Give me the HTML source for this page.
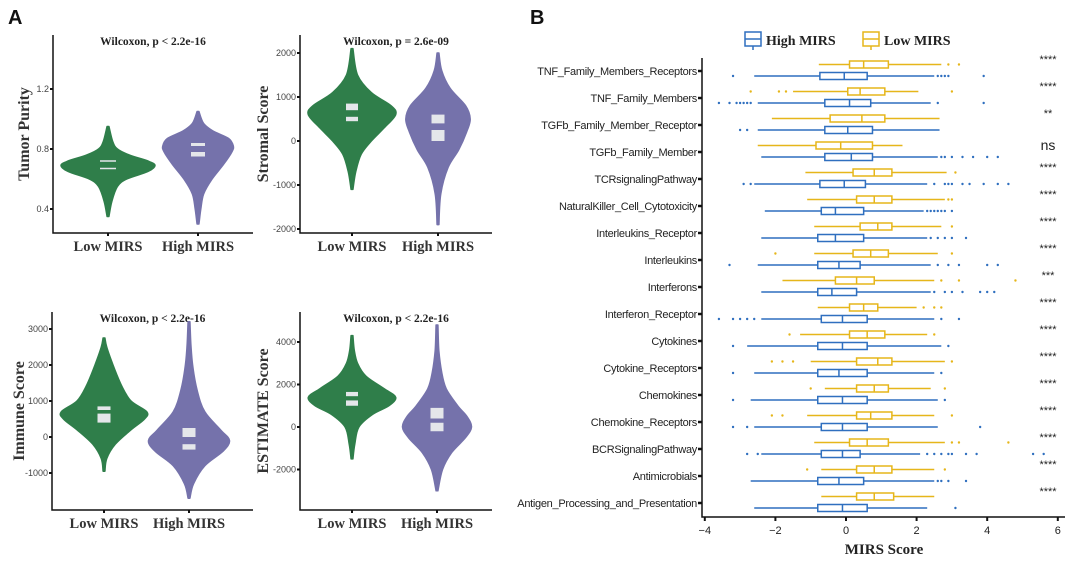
<!DOCTYPE html>
<html><head><meta charset="utf-8"><style>
body{margin:0;background:#fff;}
svg{display:block;}
.ser{font-family:"Liberation Serif",serif;font-weight:bold;}
.sans{font-family:"Liberation Sans",sans-serif;}
</style></head><body>
<svg id="fig" width="1080" height="563" viewBox="0 0 1080 563" xmlns="http://www.w3.org/2000/svg">
<text x="8" y="24" class="sans" font-weight="bold" font-size="20" fill="#111">A</text>
<text x="530" y="24" class="sans" font-weight="bold" font-size="20" fill="#111">B</text>
<g id="pa"></g>
<g id="pb"></g>
</svg>
<script>
// ---------- Panel A data ----------
const groupNames = ["Low MIRS", "High MIRS"];
const purityLowVals = [0.35,0.45,0.55,0.6,0.65,0.69,0.72,0.76,0.8,0.85,0.95];
const purityLowDens = [0.02,0.08,0.2,0.4,0.85,1,0.85,0.45,0.2,0.1,0.02];
const purityHighVals = [0.3,0.4,0.5,0.6,0.7,0.78,0.82,0.87,0.92,0.97,1.05];
const purityHighDens = [0.02,0.06,0.12,0.3,0.55,0.72,0.75,0.65,0.32,0.12,0.02];
const stromalLowVals = [-1100,-700,-300,0,300,600,800,1100,1500,2100];
const stromalLowDens = [0.02,0.08,0.2,0.42,0.7,0.95,0.85,0.42,0.12,0.02];
const stromalHighVals = [-1900,-1200,-600,-200,200,500,800,1200,1600,2000];
const stromalHighDens = [0.02,0.06,0.22,0.45,0.62,0.7,0.6,0.26,0.08,0.02];
const immuneLowVals = [-950,-600,-200,200,500,700,1000,1400,2000,2500,2750];
const immuneLowDens = [0.02,0.06,0.25,0.6,0.9,0.95,0.6,0.4,0.2,0.06,0.02];
const immuneHighVals = [-1700,-1300,-800,-400,-100,200,700,1300,2000,2600,3200];
const immuneHighDens = [0.02,0.1,0.35,0.75,0.9,0.7,0.35,0.18,0.08,0.04,0.02];
const estLowVals = [-1500,-800,0,600,1000,1400,1800,2400,3000,3600,4300];
const estLowDens = [0.02,0.06,0.15,0.45,0.8,0.95,0.7,0.3,0.12,0.05,0.02];
const estHighVals = [-3000,-2000,-1200,-500,0,500,1000,1800,2600,3600,4800];
const estHighDens = [0.02,0.12,0.32,0.62,0.75,0.65,0.45,0.2,0.1,0.04,0.02];
const purityBoxes = [[0.725,0.72],[0.675,0.67]];
const purityHighBoxes = [[0.84,0.82],[0.78,0.75]];
const stromalLowBoxes = [[850,700],[550,450]];
const stromalHighBoxes = [[600,400],[250,0]];
const immuneLowBoxes = [[850,750],[650,400]];
const immuneHighBoxes = [[250,0],[-200,-350]];
const estLowBoxes = [[1650,1450],[1250,1000]];
const estHighBoxes = [[900,400],[200,-200]];
const purityTicks = [0.4,0.8,1.2];
const stromalTicks = [-2000,-1000,0,1000,2000];
const immuneTicks = [-1000,0,1000,2000,3000];
const estTicks = [-2000,0,2000,4000];

const NS="http://www.w3.org/2000/svg";
function mk(parent,tag,attrs,txt){const e=document.createElementNS(NS,tag);for(const k in attrs)e.setAttribute(k,attrs[k]);if(txt!==undefined)e.textContent=txt;parent.appendChild(e);return e;}
const pa=document.getElementById('pa');

function smoothPts(pts){
  // Catmull-Rom to cubic bezier
  let d='';
  for(let i=0;i<pts.length-1;i++){
    const p0=pts[Math.max(0,i-1)],p1=pts[i],p2=pts[i+1],p3=pts[Math.min(pts.length-1,i+2)];
    const c1=[p1[0]+(p2[0]-p0[0])/6,p1[1]+(p2[1]-p0[1])/6];
    const c2=[p2[0]-(p3[0]-p1[0])/6,p2[1]-(p3[1]-p1[1])/6];
    d+=`C${c1[0].toFixed(1)},${c1[1].toFixed(1)} ${c2[0].toFixed(1)},${c2[1].toFixed(1)} ${p2[0].toFixed(1)},${p2[1].toFixed(1)}`;
  }
  return d;
}

function violinPanel(cfg){
  const g=mk(pa,'g',{});
  
  
  const ys=v=>cfg.y0+(v-cfg.v0)*(cfg.y1-cfg.y0)/(cfg.v1-cfg.v0);
  const title=mk(g,'text',{x:(cfg.left+cfg.right)/2,y:cfg.top+10,'text-anchor':'middle','font-size':11.5,class:'ser',fill:'#222'},cfg.title);
  
  
  cfg.violins.forEach((vi,i)=>{
    const cx=cfg.centers[i];
    const right=vi.vals.map((v,j)=>[cx+vi.dens[j]*cfg.maxw,ys(v)]);
    const left=vi.vals.map((v,j)=>[cx-vi.dens[j]*cfg.maxw,ys(v)]).reverse();
    let d=`M${cx},${ys(vi.vals[0]).toFixed(1)}L${right[0][0].toFixed(1)},${right[0][1].toFixed(1)}`+smoothPts(right);
    d+=`L${cx},${right[right.length-1][1].toFixed(1)}L${left[0][0].toFixed(1)},${left[0][1].toFixed(1)}`+smoothPts(left)+'Z';
    const p=mk(g,'path',{d:d,fill:vi.color,stroke:vi.color,'stroke-width':1.5,'stroke-linejoin':'round'});
    
    
    vi.boxes.forEach(b=>{
      const y1=ys(b[0]),y2=ys(b[1]);
      const r=mk(g,'rect',{x:cx-vi.bw/2,y:y1,width:vi.bw,height:Math.max(1.5,y2-y1),fill:'#e4e6ea'});
      
      
    });
    mk(g,'line',{x1:cx,x2:cx,y1:cfg.bottom,y2:cfg.bottom+3,stroke:'#111','stroke-width':2});
    const xl=mk(g,'text',{x:cx,y:cfg.bottom+18,'text-anchor':'middle','font-size':14.5,class:'ser',fill:'#333'},groupNames[i]);
    
    
  });
  mk(g,'path',{d:`M${cfg.left},${cfg.top}V${cfg.bottom}H${cfg.right}`,fill:'none',stroke:'#111','stroke-width':1.5});
  cfg.ticks.forEach(t=>{
    const y=ys(t);
    mk(g,'line',{x1:cfg.left-3,x2:cfg.left,y1:y,y2:y,stroke:'#111','stroke-width':2});
    const tl=mk(g,'text',{x:cfg.left-4,y:y+3,'text-anchor':'end','font-size':9,class:'sans',fill:'#444'},String(t));
    
    
  });
  const yt=mk(g,'text',{x:0,y:0,transform:`translate(${cfg.ytx},${(cfg.top+cfg.bottom)/2}) rotate(-90)`,'text-anchor':'middle','font-size':16,class:'ser',fill:'#333'},cfg.ytitle);
  
  
}
const GREEN='#2f7e4a',PURP='#7572ab';
violinPanel({name:'tumor-purity-violin',title:'Wilcoxon, p < 2.2e-16',ytitle:'Tumor Purity',left:53,right:253,top:35,bottom:233,v0:0.4,y0:209,v1:1.2,y1:89,centers:[108,198],maxw:47,ytx:29,ticks:purityTicks,
  violins:[{vals:purityLowVals,dens:purityLowDens,color:GREEN,boxes:purityBoxes,bw:16},{vals:purityHighVals,dens:purityHighDens,color:PURP,boxes:purityHighBoxes,bw:14}]});
violinPanel({name:'stromal-score-violin',title:'Wilcoxon, p = 2.6e-09',ytitle:'Stromal Score',left:300,right:492,top:35,bottom:233,v0:0,y0:141,v1:2000,y1:53,centers:[352,438],maxw:46,ytx:268,ticks:stromalTicks,
  violins:[{vals:stromalLowVals,dens:stromalLowDens,color:GREEN,boxes:stromalLowBoxes,bw:12},{vals:stromalHighVals,dens:stromalHighDens,color:PURP,boxes:stromalHighBoxes,bw:13}]});
violinPanel({name:'immune-score-violin',title:'Wilcoxon, p < 2.2e-16',ytitle:'Immune Score',left:52,right:253,top:312,bottom:510,v0:0,y0:437,v1:3000,y1:329,centers:[104,189],maxw:45,ytx:24,ticks:immuneTicks,
  violins:[{vals:immuneLowVals,dens:immuneLowDens,color:GREEN,boxes:immuneLowBoxes,bw:13},{vals:immuneHighVals,dens:immuneHighDens,color:PURP,boxes:immuneHighBoxes,bw:13}]});
violinPanel({name:'estimate-score-violin',title:'Wilcoxon, p < 2.2e-16',ytitle:'ESTIMATE Score',left:300,right:492,top:312,bottom:510,v0:0,y0:427,v1:4000,y1:342,centers:[352,437],maxw:46,ytx:268,ticks:estTicks,
  violins:[{vals:estLowVals,dens:estLowDens,color:GREEN,boxes:estLowBoxes,bw:12},{vals:estHighVals,dens:estHighDens,color:PURP,boxes:estHighBoxes,bw:13}]});

// ---------- Panel B data ----------
const pathways = ["TNF_Family_Members_Receptors","TNF_Family_Members","TGFb_Family_Member_Receptor","TGFb_Family_Member","TCRsignalingPathway","NaturalKiller_Cell_Cytotoxicity","Interleukins_Receptor","Interleukins","Interferons","Interferon_Receptor","Cytokines","Cytokine_Receptors","Chemokines","Chemokine_Receptors","BCRSignalingPathway","Antimicrobials","Antigen_Processing_and_Presentation"];
const lowStats = [[-0.77,0.1,0.5,1.2,2.7],[-1.5,0.05,0.4,1.1,2.05],[-2.1,-0.45,0.45,1.1,2.65],[-2.5,-0.85,-0.15,0.75,1.6],[-1.15,0.2,0.8,1.3,2.85],[-1.1,0.3,0.8,1.3,2.8],[-0.9,0.4,0.9,1.3,2.7],[-0.9,0.2,0.7,1.2,2.6],[-1.8,-0.3,0.3,0.8,2.5],[-0.8,0.1,0.5,0.9,2.0],[-1.3,0.1,0.6,1.1,2.3],[-1.0,0.3,0.9,1.3,2.8],[-0.6,0.3,0.8,1.2,2.4],[-1.1,0.3,0.7,1.3,2.5],[-0.9,0.1,0.6,1.2,2.8],[-0.7,0.3,0.8,1.3,2.5],[-0.7,0.3,0.8,1.35,2.5]];
const highStats = [[-2.6,-0.74,-0.05,0.6,2.5],[-2.5,-0.6,0.1,0.7,2.4],[-2.5,-0.6,0.05,0.75,2.65],[-2.4,-0.6,0.15,0.75,2.6],[-2.6,-0.74,-0.05,0.55,2.3],[-2.3,-0.7,-0.3,0.5,2.2],[-2.4,-0.8,-0.3,0.5,2.3],[-2.5,-0.8,-0.2,0.4,2.4],[-2.4,-0.8,-0.4,0.3,2.4],[-2.4,-0.7,-0.1,0.6,2.5],[-2.8,-0.8,-0.1,0.6,2.7],[-2.6,-0.8,-0.2,0.6,2.5],[-2.7,-0.8,-0.1,0.6,2.6],[-2.6,-0.7,-0.1,0.6,2.6],[-2.4,-0.7,-0.1,0.4,2.1],[-2.7,-0.8,-0.2,0.5,2.5],[-2.6,-0.8,-0.1,0.6,2.3]];
const lowOutliers = [[2.9,3.2],[-2.7,-1.9,-1.7,3.0],[],[],[3.1],[2.9,3.0],[3.0],[-2.0,3.0],[2.7,3.2,4.8],[2.2,2.5,2.7],[-1.6,2.5],[-2.1,-1.8,-1.5,3.0],[-1.0,2.8],[-2.1,-1.8,3.0],[3.0,3.2,4.6],[-1.1,2.8],[]];
const highOutliers = [[-3.2,2.6,2.7,2.8,2.9,3.9],[-3.6,-3.3,-3.1,-3.0,-2.9,-2.8,-2.7,2.6,3.9],[-3.0,-2.8],[2.7,2.8,3.0,3.3,3.6,4.0,4.3],[-2.9,-2.7,2.5,2.8,2.9,3.0,3.3,3.5,3.9,4.3,4.6],[2.3,2.4,2.5,2.6,2.7,2.8,3.0],[2.4,2.6,2.8,3.0,3.4],[-3.3,2.6,2.9,3.2,4.0,4.3],[2.5,2.8,3.0,3.3,3.8,4.0,4.2],[-3.6,-3.2,-3.0,-2.8,-2.6,2.7,3.2],[-3.2,2.9],[-3.2,2.7],[-3.2,2.8],[-3.2,-2.8,3.8],[-2.8,-2.5,2.3,2.5,2.7,2.9,3.0,3.4,3.7,5.3,5.6],[2.6,2.7,2.9,3.4],[3.1]];
const signif = ["****","****","**","ns","****","****","****","****","***","****","****","****","****","****","****","****","****"];
const xTicks = [-4,-2,0,2,4,6];

const pb=document.getElementById('pb');
const AX_L=702, AX_R=1065, AX_B=517, ROW0=71, ROWH=27;
const xs=v=>846+v*35.3;
const ry=i=>ROW0+i*ROWH;
const BLUE='#2f6fbf', YEL='#e6b61a';
function box(g,st,y,color,outs,nm){
  const b=mk(g,'g',{});
  
  
  mk(b,'line',{x1:xs(st[0]),x2:xs(st[1]),y1:y,y2:y,stroke:color,'stroke-width':1.5});
  mk(b,'line',{x1:xs(st[3]),x2:xs(st[4]),y1:y,y2:y,stroke:color,'stroke-width':1.5});
  mk(b,'rect',{x:xs(st[1]),y:y-3.5,width:xs(st[3])-xs(st[1]),height:7,fill:'none',stroke:color,'stroke-width':1.5});
  mk(b,'line',{x1:xs(st[2]),x2:xs(st[2]),y1:y-3.5,y2:y+3.5,stroke:color,'stroke-width':1.5});
  outs.forEach(o=>{mk(b,'circle',{cx:xs(o),cy:y,r:1.2,fill:color});});
}
pathways.forEach((p,i)=>{
  const y=ry(i);
  const g=mk(pb,'g',{});
  
  
  const t=mk(g,'text',{x:697,y:y+4,'text-anchor':'end','font-size':11,class:'sans',fill:'#222','letter-spacing':'-0.3'},p);
  
  
  mk(g,'line',{x1:698,x2:702,y1:y,y2:y,stroke:'#111','stroke-width':2.5});
  box(g,lowStats[i],y-6.5,YEL,lowOutliers[i],'low-mirs-box');
  box(g,highStats[i],y+5,BLUE,highOutliers[i],'high-mirs-box');
  const s=mk(g,'text',{x:1048,y:signif[i]==='ns'?y-2:y-8,'text-anchor':'middle','font-size':signif[i]==='ns'?14:11,class:'sans',fill:'#222'},signif[i]);
  
  
});
mk(pb,'path',{d:`M${AX_L},58V${AX_B}H${AX_R}`,fill:'none',stroke:'#111','stroke-width':1.5});
xTicks.forEach(t=>{
  mk(pb,'line',{x1:xs(t),x2:xs(t),y1:AX_B,y2:AX_B+4,stroke:'#111','stroke-width':2});
  const tl=mk(pb,'text',{x:xs(t),y:AX_B+17,'text-anchor':'middle','font-size':11,class:'sans',fill:'#222'},t<0?'\u2212'+(-t):String(t));
  
  
});
const xt=mk(pb,'text',{x:884,y:554,'text-anchor':'middle','font-size':15,class:'ser',fill:'#222'},'MIRS Score');


// legend
[[745,'High MIRS',BLUE],[863,'Low MIRS',YEL]].forEach(([x,lab,c])=>{
  const lg=mk(pb,'g',{});
  
  
  mk(lg,'rect',{x:x,y:32,width:16,height:14,fill:'none',stroke:c,'stroke-width':1.5});
  mk(lg,'line',{x1:x,x2:x+16,y1:39,y2:39,stroke:c,'stroke-width':1.5});
  mk(lg,'line',{x1:x+8,x2:x+8,y1:46,y2:50,stroke:c,'stroke-width':1.5});
  mk(lg,'text',{x:x+21,y:45,'font-size':14,class:'ser',fill:'#222'},lab);
});
</script>
</body></html>
